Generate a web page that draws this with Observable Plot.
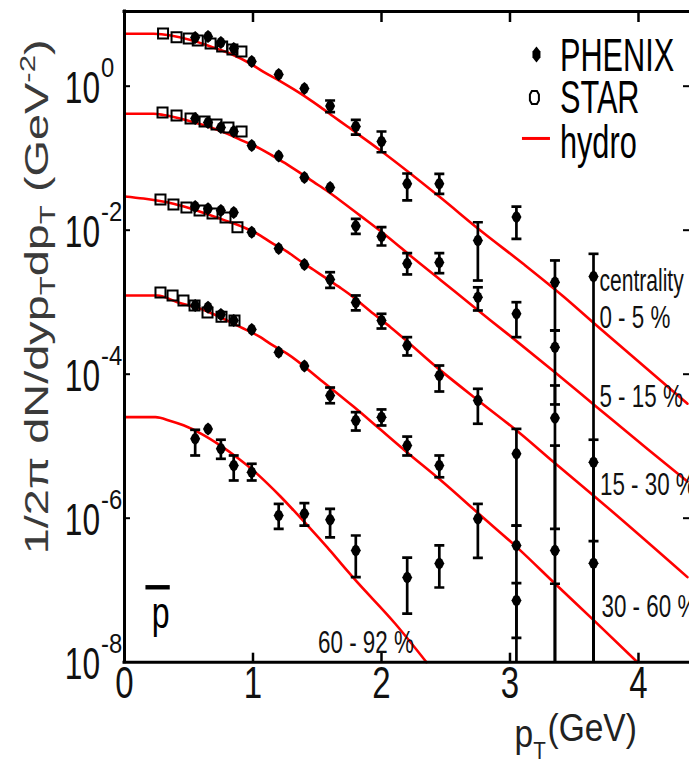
<!DOCTYPE html>
<html>
<head>
<meta charset="utf-8">
<script src="https://cdn.jsdelivr.net/npm/d3@7"></script>
<script src="https://cdn.jsdelivr.net/npm/@observablehq/plot@0.6"></script>
<style>
  html, body { margin: 0; padding: 0; background: #fff; overflow: hidden; }
  #chart svg { display: block; }
</style>
</head>
<body>
<div id="chart"></div>
<script>
// ---------------- DATA ----------------
const centralities = ["0 - 5 %", "5 - 15 %", "15 - 30 %", "30 - 60 %", "60 - 92 %"];
const legendEntries = ["PHENIX", "STAR", "hydro"];
const centralityTitle = "centrality";
const particleLabel = "\u2009p";          // p with overline (antiproton)
const xTickValues = [0, 1, 2, 3, 4];
const yTickValues = [1, 1e-2, 1e-4, 1e-6, 1e-8];
const xTickMarks = [1, 2, 3, 4];
const yTickMarks = [1, 1e-2, 1e-4, 1e-6];
const yTitleParts = [["1/2π dN/dyp", ""], ["T", "sub"], ["dp", ""], ["T", "sub"], [" (GeV", ""], ["-2", "sup"], [")", ""]];
const xTitleParts = [["p", "base"], ["T", "sub"], ["(GeV)", ""]];

// hydro curves: [pT (GeV), 1/2π dN/dy pT dpT (GeV^-2)]
const hydro_0_5 = [[0,5.35],[0.226,5.35],[0.529,4.31],[0.669,3.56],[0.825,2.82],[0.981,2.05],[1.082,1.58],[1.214,1.17],[1.315,0.91],[1.424,0.684],[1.525,0.513],[1.626,0.38],[1.735,0.275],[1.992,0.128],[2.459,0.0284],[2.77,0.0099],[3.105,0.00339],[3.416,0.0012],[3.665,0.00049],[4.381,3.89e-5]];
const hydro_5_15 = [[0,0.414],[0.226,0.414],[0.304,0.398],[0.49,0.334],[0.802,0.218],[0.903,0.18],[1.058,0.135],[1.16,0.106],[1.268,0.0813],[1.346,0.0661],[1.471,0.0468],[1.58,0.0347],[1.681,0.0257],[1.837,0.0158],[2.047,0.00813],[2.249,0.00407],[2.459,0.00204],[2.693,9.33e-4],[2.981,3.63e-4],[3.354,1.05e-4],[3.665,3.63e-5],[4.07,9.12e-6],[4.381,3.24e-6]];
const hydro_15_30 = [[0,0.0294],[0.148,0.0275],[0.381,0.0233],[0.77,0.0139],[0.926,0.011],[1.058,0.00843],[1.136,0.00681],[1.268,0.00501],[1.346,0.00398],[1.471,0.00282],[1.58,0.00209],[1.681,0.00158],[1.743,0.00132],[1.938,6.9e-4],[2.07,4.5e-4],[2.459,1.13e-4],[2.77,4.08e-5],[3.082,1.49e-5],[3.339,6.03e-6],[3.665,1.96e-6],[4.381,1.52e-7]];
const hydro_30_60 = [[0,1.24e-3],[0.257,1.24e-3],[0.412,1.0e-3],[0.591,8.1e-4],[0.903,4.5e-4],[1.058,3.27e-4],[1.136,2.64e-4],[1.268,1.92e-4],[1.541,7.94e-5],[1.782,3.55e-5],[1.992,1.70e-5],[2.202,8.13e-6],[2.459,3.39e-6],[2.77,1.10e-6],[3.082,3.55e-7],[3.339,1.29e-7],[3.665,3.63e-8],[3.992,1.0e-8]];
const hydro_60_92 = [[0,2.53e-5],[0.241,2.53e-5],[0.358,2.24e-5],[0.459,1.95e-5],[0.591,1.51e-5],[0.747,1.02e-5],[0.879,6.92e-6],[1.004,4.57e-6],[1.113,3.02e-6],[1.214,2.0e-6],[1.315,1.29e-6],[1.424,7.94e-7],[1.58,3.89e-7],[1.681,2.4e-7],[1.782,1.48e-7],[2.109,3.39e-8],[2.35,1.0e-8]];

// PHENIX: [pT, value, upper end of error bar, lower end of error bar] (null = bar hidden by marker)
const phenix_0_5 = [[0.55,4.75,null,null],[0.65,4.9,null,null],[0.75,4.04,null,null],[0.85,3.34,null,null],[0.99,2.2,null,null],[1.2,1.45,null,null],[1.4,0.93,null,null],[1.6,0.531,0.633,0.435],[1.8,0.275,0.34,0.213],[2.0,0.171,0.235,0.121],[2.2,0.0441,0.0613,0.0259],[2.45,0.0441,0.0607,0.032],[2.75,0.0072,0.0129,0.002],[3.05,0.0152,0.0213,0.0076],[3.35,0.0019,0.0038,4.05e-4],[3.65,0.00228,0.0047,1e-9]];
const phenix_5_15 = [[0.55,0.356,null,null],[0.65,0.313,null,null],[0.75,0.267,null,null],[0.85,0.235,null,null],[0.99,0.15,null,null],[1.2,0.107,null,null],[1.4,0.054,null,null],[1.6,0.0392,null,null],[1.8,0.0114,0.0144,0.0089],[2.0,0.00817,0.011,0.00613],[2.2,0.00345,0.0048,0.00243],[2.45,0.00356,0.0048,0.00253],[2.75,0.00117,0.00161,7.67e-4],[3.05,6.9e-4,0.001,3.27e-4],[3.35,2.37e-4,4.05e-4,3.8e-5]];
const phenix_15_30 = [[0.55,0.0213,null,null],[0.65,0.0198,null,null],[0.75,0.0188,null,null],[0.85,0.0176,null,null],[0.99,0.00938,null,null],[1.2,0.00557,null,null],[1.4,0.00334,null,null],[1.6,0.00207,0.00261,0.00158],[1.8,9.9e-4,0.00124,7.7e-4],[2.0,5.57e-4,6.9e-4,4.31e-4],[2.2,2.5e-4,3.27e-4,1.82e-4],[2.45,9.6e-5,1.32e-4,5.75e-5],[2.75,4.31e-5,6.27e-5,2.05e-5],[3.05,7.84e-6,1.74e-5,7.9e-7],[3.35,2.46e-5,6.97e-5,7.13e-7],[3.65,6.0e-6,1.23e-5,1e-9]];
const phenix_30_60 = [[0.55,9.0e-4,null,null],[0.65,8.53e-4,null,null],[0.75,6.75e-4,null,null],[0.85,5.57e-4,null,null],[0.99,4.18e-4,null,null],[1.2,2.02e-4,null,null],[1.4,1.3e-4,null,null],[1.6,5.06e-5,6.53e-5,3.95e-5],[1.8,2.28e-5,2.97e-5,1.65e-5],[2.0,2.53e-5,3.24e-5,1.94e-5],[2.2,1.02e-5,1.36e-5,7.43e-6],[2.45,5.4e-6,7.43e-6,3.7e-6],[2.75,9.8e-7,1.58e-6,2.82e-7],[3.05,4.18e-7,7.9e-7,2.18e-8],[3.35,3.56e-7,1.02e-5,1e-9],[3.65,2.37e-7,4.8e-7,1e-9]];
const phenix_60_92 = [[0.55,1.27e-5,1.69e-5,7.43e-6],[0.65,1.74e-5,null,null],[0.75,9.2e-6,1.23e-5,6.68e-6],[0.85,5.4e-6,7.43e-6,3.34e-6],[0.99,4.36e-6,5.7e-6,3.34e-6],[1.2,1.09e-6,1.58e-6,7.13e-7],[1.4,1.15e-6,1.62e-6,7.9e-7],[1.6,9.5e-7,1.35e-6,5.4e-7],[1.8,3.56e-7,5.75e-7,1.52e-7],[2.2,1.5e-7,2.84e-7,4.74e-8],[2.45,2.35e-7,4.18e-7,1.09e-7],[3.05,7.2e-8,1.25e-7,1e-9],[3.35,5e-9,1.23e-7,1e-9]];

// STAR: [pT, value]
const star_0_5 = [[0.30,5.40],[0.405,4.79],[0.50,4.59],[0.57,4.31],[0.67,3.92],[0.76,3.56],[0.84,3.24],[0.91,3.03]];
const star_5_15 = [[0.296,0.431],[0.405,0.392],[0.514,0.356],[0.623,0.323],[0.716,0.294],[0.809,0.267],[0.911,0.235]];
const star_15_30 = [[0.28,0.0267],[0.381,0.0228],[0.482,0.0207],[0.584,0.0188],[0.685,0.0171],[0.786,0.015],[0.879,0.011]];
const star_30_60 = [[0.28,1.36e-3],[0.374,1.24e-3],[0.459,1.06e-3],[0.545,9.0e-4],[0.646,7.2e-4],[0.755,6.3e-4],[0.856,5.57e-4]];

// ---------------- TABLES BUILT FROM THE ARRAYS ----------------
const hydroSeries = [hydro_0_5, hydro_5_15, hydro_15_30, hydro_30_60, hydro_60_92];
const phenixSeries = [phenix_0_5, phenix_5_15, phenix_15_30, phenix_30_60, phenix_60_92];
const starSeries = [star_0_5, star_5_15, star_15_30, star_30_60];

const hydroRows = hydroSeries.flatMap((s, i) => s.map(([pt, v]) => ({c: centralities[i], pt, v})));
const phenixRows = phenixSeries.flatMap((s, i) => s.map(([pt, v, hi, lo]) => ({c: centralities[i], pt, v, hi, lo})));
const starRows = starSeries.flatMap((s, i) => s.map(([pt, v]) => ({c: centralities[i], pt, v})));
const errRows = phenixRows.filter(d => d.hi != null);
const capRows = errRows.flatMap(d => [{pt: d.pt, v: d.hi}, {pt: d.pt, v: d.lo}]);

// ---------------- LAYOUT / STYLE ----------------
const FONT = "'Liberation Sans', Arial, Helvetica, sans-serif";
const W = 689, H = 761;
const M = {left: 124, right: 0, top: 11, bottom: 99.3};
const X_MAX = 4.397, Y_MIN = 1e-8, Y_MAX = 10.9;
const pxPerX = (W - M.left - M.right) / X_MAX;
const pxPerDecade = (H - M.bottom - M.top) / Math.log10(Y_MAX / Y_MIN);
const RED = "#ff0000";

const L = {
  legendTextX: 3.389, legendTextY: [1.65, 0.431, 0.102],
  legendPhenix: [3.206, 2.75], legendStar: [3.19, 0.697], legendLine: [3.097, 3.315, 0.188],
  centTitle: [3.696, 1.45e-3],
  centX: [3.696, 3.696, 3.70, 3.712, 1.506],
  centY: [4.45e-4, 3.45e-5, 2.07e-6, 4.18e-8, 1.36e-8],
  pbar: [0.163, 2.94e-8],
  yTitle: [1.19e-3, -77],
  xTitle: [3.035, 78.3]
};

// marker shapes
const phenixSym = {draw(ctx) {
  ctx.moveTo(0, -6.5); ctx.lineTo(3, -4); ctx.lineTo(5, 0); ctx.lineTo(3, 4);
  ctx.lineTo(0, 6.5); ctx.lineTo(-3, 4); ctx.lineTo(-5, 0); ctx.lineTo(-3, -4); ctx.closePath();
}};
const phenixLegendSym = {draw(ctx) {
  ctx.moveTo(0, -8); ctx.lineTo(4, -3); ctx.lineTo(4, 3); ctx.lineTo(0, 8);
  ctx.lineTo(-4, 3); ctx.lineTo(-4, -3); ctx.closePath();
}};
const starSym = {draw(ctx) {
  ctx.moveTo(-5, -5); ctx.lineTo(5, -5); ctx.lineTo(5, 5); ctx.lineTo(-5, 5); ctx.closePath();
}};
const starLegendSym = {draw(ctx) {
  ctx.moveTo(-2.5, -6.5); ctx.lineTo(2.5, -6.5); ctx.lineTo(4.5, -3); ctx.lineTo(4.5, 3);
  ctx.lineTo(2.5, 6.5); ctx.lineTo(-2.5, 6.5); ctx.lineTo(-4.5, 3); ctx.lineTo(-4.5, -3); ctx.closePath();
}};
const capSym = {draw(ctx) { ctx.moveTo(-5, 0); ctx.lineTo(5, 0); }};

const svg = Plot.plot({
  width: W, height: H,
  marginLeft: M.left, marginRight: M.right, marginTop: M.top, marginBottom: M.bottom,
  style: {fontFamily: FONT, background: "#fff", color: "#000"},
  x: {type: "linear", domain: [0, X_MAX], axis: null},
  y: {type: "log", domain: [Y_MIN, Y_MAX], axis: null},
  marks: [
    // hydro curves
    Plot.line(hydroRows, {x: "pt", y: "v", z: "c", stroke: RED, strokeWidth: 2.6, curve: "monotone-x"}),
    // frame & ticks
    Plot.ruleX([0], {stroke: "#000", strokeWidth: 3, strokeLinecap: "square"}),
    Plot.ruleY([Y_MIN, Y_MAX], {stroke: "#000", strokeWidth: 3, strokeLinecap: "square"}),
    Plot.ruleY(yTickMarks, {y: d => d, x1: 0, x2: 6 / pxPerX, stroke: "#000", strokeWidth: 2}),
    Plot.ruleY(yTickMarks, {y: d => d, x1: X_MAX - 6 / pxPerX, x2: X_MAX, stroke: "#000", strokeWidth: 2}),
    Plot.ruleX(xTickMarks, {x: d => d, y1: Y_MAX, y2: Y_MAX / Math.pow(10, 11 / pxPerDecade), stroke: "#000", strokeWidth: 2.5}),
    Plot.ruleX(xTickMarks, {x: d => d, y1: Y_MIN, y2: Y_MIN * Math.pow(10, 9 / pxPerDecade), stroke: "#000", strokeWidth: 2.5}),
    // STAR
    Plot.dot(starRows, {x: "pt", y: "v", symbol: starSym, fill: "none", stroke: "#000", strokeWidth: 2}),
    // PHENIX error bars, caps and points
    Plot.ruleX(errRows, {x: "pt", y1: "lo", y2: "hi", stroke: "#000", strokeWidth: 2.7, clip: true}),
    Plot.dot(capRows, {x: "pt", y: "v", symbol: capSym, fill: "none", stroke: "#000", strokeWidth: 2.7, clip: true}),
    Plot.dot(phenixRows, {x: "pt", y: "v", symbol: phenixSym, fill: "#000", stroke: "none", clip: true}),
    // legend
    Plot.dot([0], {x: () => L.legendPhenix[0], y: () => L.legendPhenix[1], symbol: phenixLegendSym, fill: "#000", stroke: "none"}),
    Plot.dot([0], {x: () => L.legendStar[0], y: () => L.legendStar[1], symbol: starLegendSym, fill: "none", stroke: "#000", strokeWidth: 2}),
    Plot.ruleY([L.legendLine[2]], {x1: L.legendLine[0], x2: L.legendLine[1], stroke: RED, strokeWidth: 3}),
    Plot.text(legendEntries, {x: () => L.legendTextX, y: (d, i) => L.legendTextY[i], text: d => d,
      textAnchor: "start", lineAnchor: "bottom", fontSize: 46.5, fill: "#000", ariaDescription: "legend-text"}),
    // centrality labels
    Plot.text([centralityTitle], {x: () => L.centTitle[0], y: () => L.centTitle[1], text: d => d,
      textAnchor: "start", lineAnchor: "bottom", fontSize: 31, fill: "#111", ariaDescription: "cent-title"}),
    Plot.text(centralities, {x: (d, i) => L.centX[i], y: (d, i) => L.centY[i], text: d => d,
      textAnchor: "start", lineAnchor: "bottom", fontSize: 32, fill: "#111", ariaDescription: "cent-labels"}),
    Plot.text([particleLabel], {x: () => L.pbar[0], y: () => L.pbar[1], text: d => d,
      textAnchor: "start", lineAnchor: "bottom", fontSize: 44, fill: "#000", ariaDescription: "pbar"}),
    // tick labels
    Plot.text(yTickValues, {y: d => d, text: () => "10", frameAnchor: "left", dx: -24.5, dy: 3,
      textAnchor: "end", fontSize: 44, fill: "#111", ariaDescription: "ytick-base"}),
    Plot.text(yTickValues, {y: d => d, text: d => String(Math.round(Math.log10(d))), frameAnchor: "left", dx: -23.5, dy: -18,
      textAnchor: "start", fontSize: 28, fill: "#111", ariaDescription: "ytick-exp"}),
    Plot.text(xTickValues, {x: d => d, text: d => String(d), frameAnchor: "bottom", dy: 36,
      textAnchor: "middle", fontSize: 44, fill: "#111", ariaDescription: "xtick"}),
    // axis titles
    Plot.text([yTitleParts.map(p => p[0]).join("")], {y: () => L.yTitle[0], frameAnchor: "left", dx: L.yTitle[1], text: d => d,
      rotate: -90, textAnchor: "middle", lineAnchor: "bottom", fontSize: 33, fill: "#3a3a3a", ariaDescription: "y-title"}),
    Plot.text([xTitleParts.map(p => p[0]).join("")], {x: () => L.xTitle[0], y: () => Y_MIN, dy: L.xTitle[1], text: d => d,
      textAnchor: "start", lineAnchor: "bottom", fontSize: 39, fill: "#222", ariaDescription: "x-title"})
  ]
});
document.getElementById("chart").append(svg);

// ---------------- TEXT STYLING (condensed glyphs, sub/superscripts) ----------------
const S = d3.select(svg);
function sel(label) { return S.selectAll(`g[aria-description="${label}"] text`); }
function squeeze(label, kx) {
  sel(label).each(function () {
    const tr = this.getAttribute("transform") || "";
    this.setAttribute("transform", tr + ` scale(${kx},1)`);
  });
}
function rich(label, parts) {
  sel(label).each(function () {
    this.textContent = "";
    let off = 0;
    for (const p of parts) {
      const t = document.createElementNS("http://www.w3.org/2000/svg", "tspan");
      t.textContent = p.s;
      const target = p.shift || 0;
      if (target !== off) { t.setAttribute("dy", target - off); off = target; }
      if (p.fs) t.setAttribute("font-size", p.fs);
      if (p.dx) t.setAttribute("dx", p.dx);
      this.appendChild(t);
    }
  });
}
const yStyle = {"": {}, sub: {fs: 22, shift: 7}, sup: {fs: 22, shift: -13}};
rich("y-title", yTitleParts.map(([s, k]) => ({s, ...yStyle[k]})));
const xStyle = {base: {shift: 6}, sub: {fs: 24, shift: 18}, "": {shift: 0, dx: 2}};
rich("x-title", xTitleParts.map(([s, k]) => ({s, ...xStyle[k]})));
sel("pbar").style("text-decoration", "overline");

squeeze("legend-text", 0.66);
squeeze("cent-title", 0.68);
squeeze("cent-labels", 0.7);
squeeze("pbar", 0.73);
squeeze("ytick-base", 0.72);
squeeze("ytick-exp", 0.85);
squeeze("xtick", 0.75);
squeeze("y-title", 1.42);
squeeze("x-title", 0.86);
</script>
</body>
</html>
